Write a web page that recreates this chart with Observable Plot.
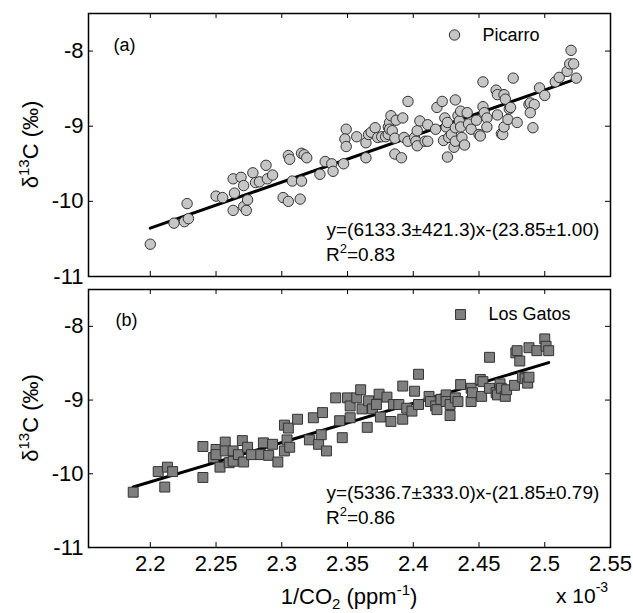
<!DOCTYPE html>
<html><head><meta charset="utf-8">
<script src="https://cdn.jsdelivr.net/npm/d3@7"></script>
<script src="https://cdn.jsdelivr.net/npm/@observablehq/plot@0.6"></script>
<style>
body{margin:0;background:#fff;font-family:"Liberation Sans",Arial,sans-serif;}
#chart{width:633px;height:613px;position:relative;background:#fff;}
#chart svg{display:block;}
</style></head><body><div id="chart"></div>
<script>
// ---- data (x in units of 1e-3 ppm^-1, y in per mil) ----
const picarroX = [2.200,2.218,2.226,2.229,2.228,2.250,2.255,2.263,2.269,2.264,2.271,2.263,2.271,2.273,2.274,2.278,2.280,2.283,2.288,2.289,
2.293,2.301,2.305,2.314,2.305,2.306,2.308,2.315,2.317,2.319,2.315,2.329,2.333,2.338,2.339,2.347,2.349,2.348,2.349,2.357,
2.364,2.364,2.366,2.368,2.371,2.373,2.376,2.379,2.381,2.381,2.382,2.383,2.382,2.384,2.386,2.386,2.391,2.387,2.392,2.393,
2.396,2.396,2.401,2.402,2.403,2.403,2.405,2.409,2.411,2.411,2.417,2.418,2.422,2.424,2.425,2.423,2.426,2.426,2.427,2.429,
2.431,2.432,2.432,2.432,2.434,2.435,2.436,2.436,2.437,2.439,2.441,2.442,2.444,2.448,2.450,2.451,2.453,2.453,2.454,2.456,
2.456,2.463,2.464,2.464,2.467,2.468,2.469,2.469,2.470,2.472,2.473,2.474,2.476,2.479,2.488,2.489,2.492,2.489,2.491,2.496,
2.500,2.508,2.511,2.517,2.520,2.519,2.522,2.524];
const picarroY = [-10.57,-10.29,-10.27,-10.23,-10.03,-9.93,-9.95,-9.70,-9.68,-9.89,-9.79,-10.12,-10.07,-10.12,-9.98,-9.62,-9.75,-9.74,-9.52,-9.70,
-9.65,-9.95,-10.00,-9.97,-9.39,-9.44,-9.73,-9.36,-9.38,-9.42,-9.73,-9.64,-9.47,-9.50,-9.60,-9.50,-9.04,-9.17,-9.27,-9.14,
-9.42,-9.22,-9.11,-9.08,-9.02,-9.15,-9.14,-9.14,-9.11,-9.01,-8.95,-8.86,-9.04,-9.06,-9.16,-9.37,-9.42,-8.92,-8.89,-9.15,
-8.67,-9.20,-9.15,-9.20,-9.26,-9.06,-8.93,-9.20,-9.20,-8.98,-9.04,-8.75,-8.67,-8.89,-9.01,-9.19,-8.95,-9.41,-9.15,-9.11,
-9.28,-8.65,-9.02,-9.20,-8.86,-8.93,-8.80,-9.01,-9.15,-9.25,-8.82,-8.97,-9.04,-8.92,-9.11,-9.13,-8.41,-8.74,-8.82,-8.89,
-9.01,-8.52,-8.58,-8.85,-9.10,-9.11,-9.01,-8.58,-8.64,-8.91,-8.77,-8.75,-8.36,-8.95,-8.71,-8.69,-8.71,-8.82,-9.02,-8.49,
-8.59,-8.41,-8.35,-8.27,-7.99,-8.17,-8.17,-8.36];
const losGatosX = [2.187,2.206,2.213,2.217,2.211,2.240,2.240,2.248,2.250,2.250,2.253,2.257,2.257,2.260,2.263,2.263,2.267,2.270,2.271,2.274,
2.277,2.284,2.286,2.290,2.293,2.297,2.302,2.302,2.304,2.305,2.306,2.312,2.321,2.324,2.328,2.331,2.330,2.334,2.341,2.344,
2.346,2.350,2.352,2.352,2.357,2.360,2.361,2.365,2.366,2.369,2.372,2.374,2.375,2.380,2.383,2.385,2.389,2.392,2.392,2.395,
2.401,2.399,2.404,2.404,2.412,2.413,2.417,2.418,2.421,2.425,2.425,2.428,2.428,2.432,2.434,2.436,2.444,2.444,2.445,2.451,
2.452,2.453,2.458,2.458,2.463,2.464,2.466,2.467,2.470,2.471,2.477,2.478,2.479,2.481,2.483,2.485,2.487,2.488,2.488,2.494,
2.500,2.501,2.503];
const losGatosY = [-10.25,-9.97,-9.91,-9.97,-10.18,-9.63,-10.05,-9.78,-9.67,-9.74,-9.91,-9.57,-9.69,-9.85,-9.69,-9.83,-9.74,-9.55,-9.84,-9.64,
-9.74,-9.74,-9.58,-9.75,-9.60,-9.84,-9.34,-9.69,-9.54,-9.38,-9.64,-9.26,-9.54,-9.24,-9.60,-9.17,-9.47,-9.69,-8.97,-9.28,
-9.51,-8.97,-9.08,-9.24,-8.97,-8.86,-9.12,-9.37,-9.01,-9.12,-9.06,-8.92,-9.23,-8.96,-9.29,-9.06,-9.06,-8.81,-9.26,-9.11,
-8.88,-9.15,-8.65,-9.06,-8.95,-9.02,-9.08,-9.13,-8.99,-8.93,-9.02,-9.21,-9.06,-8.97,-9.02,-8.79,-8.84,-9.02,-8.90,-8.72,
-8.95,-8.75,-8.84,-8.42,-8.90,-8.93,-8.78,-8.84,-8.95,-8.86,-8.80,-8.36,-8.33,-8.47,-8.69,-8.71,-8.77,-8.69,-8.29,-8.33,
-8.17,-8.27,-8.33];
const seriesNames = ["Picarro", "Los Gatos"];
const panelLabels = ["(a)", "(b)"];
const fitSlopes = [6133.3, 5336.7];
const fitIntercepts = [-23.85, -21.85];
const fitEquations = ["y=(6133.3\u00b1421.3)x-(23.85\u00b11.00)", "y=(5336.7\u00b1333.0)x-(21.85\u00b10.79)"];
const fitR2 = ["0.83", "0.86"];
const xTicks = [2.2, 2.25, 2.3, 2.35, 2.4, 2.45, 2.5, 2.55];
const yTicks = [-8, -9, -10, -11];
const xDomain = [2.153, 2.55];
const yDomain = [-11, -7.5];

// ---- layout ----
const W = 633, ML = 88, MR = 23, TICK = 5;
const FONT = "Liberation Sans, Arial, sans-serif";

function makePanel(c) {
  const innerW = W - ML - MR;
  const innerH = c.height - c.marginTop - c.marginBottom;
  const rows = c.xs.map((x, i) => ({x, y: c.ys[i]}));
  const ext = d3.extent(c.xs);
  const fit = ext.map(x => ({x, y: c.slope * x * 1e-3 + c.intercept}));
  const marks = [
    Plot.tickX(xTicks, {x: d => d, insetTop: innerH - TICK, stroke: "#000"}),
    Plot.tickX(xTicks, {x: d => d, insetBottom: innerH - TICK, stroke: "#000"}),
    Plot.tickY(yTicks, {y: d => d, insetRight: innerW - TICK, stroke: "#000"}),
    Plot.tickY(yTicks, {y: d => d, insetLeft: innerW - TICK, stroke: "#000"}),
    Plot.axisY({ticks: yTicks, tickSize: 0, tickPadding: 5, tickFormat: d => String(d), fontSize: 22, label: null}),
    Plot.line(fit, {x: "x", y: "y", stroke: "#000", strokeWidth: 3}),
    Plot.dot(rows, {x: "x", y: "y", symbol: c.symbol, r: c.r, fill: c.fill, stroke: "#333", strokeWidth: 1}),
    Plot.dot([c.name], {frameAnchor: "top-left", dx: c.legDx, dy: c.legDy, symbol: c.symbol, r: c.r, fill: c.fill, stroke: "#333", strokeWidth: 1}),
    Plot.text([c.name], {frameAnchor: "top-left", dx: c.legDx + 28, dy: c.legDy, text: d => d, textAnchor: "start", lineAnchor: "middle", fontSize: 18, fill: "#000"}),
    Plot.text([c.label], {frameAnchor: "top-left", dx: c.labDx, dy: c.labDy, text: d => d, textAnchor: "start", lineAnchor: "middle", fontSize: 18, fill: "#000"}),
    Plot.text([c.eq], {frameAnchor: "top-left", dx: 238, dy: c.eqDy, text: d => d, textAnchor: "start", lineAnchor: "middle", fontSize: 19, fill: "#000"}),
    Plot.frame({stroke: "#000", strokeWidth: 1.5})
  ];
  if (c.showX) marks.push(Plot.axisX({ticks: xTicks, tickSize: 0, tickPadding: 8, tickFormat: d => String(d), fontSize: 22, label: null}));
  const svg = Plot.plot({
    width: W, height: c.height,
    marginLeft: ML, marginRight: MR, marginTop: c.marginTop, marginBottom: c.marginBottom,
    x: c.showX ? {domain: xDomain} : {domain: xDomain, axis: null},
    y: {domain: yDomain},
    style: {fontFamily: FONT, fontSize: "21px", color: "#000", background: "#fff", overflow: "visible"},
    marks
  });
  const s = d3.select(svg);
  // R^2 line with a real superscript
  const r = s.append("text").attr("x", ML + 238).attr("y", c.marginTop + c.eqDy + 32)
    .attr("text-anchor", "start")
    .attr("font-family", FONT).attr("font-size", 19).attr("fill", "#000");
  r.append("tspan").text("R");
  r.append("tspan").attr("font-size", 13).attr("dy", -8).text("2");
  r.append("tspan").attr("dy", 8).text("=" + c.r2);
  // y-axis title: delta 13C (permil)
  const cy = c.marginTop + innerH / 2;
  const yl = s.append("text").attr("transform", `translate(38,${cy}) rotate(-90)`)
    .attr("text-anchor", "middle").attr("font-family", FONT).attr("font-size", 22).attr("fill", "#000");
  yl.append("tspan").text("\u03b4");
  yl.append("tspan").attr("font-size", 15).attr("dy", -9).text("13");
  yl.append("tspan").attr("dy", 9).text("C (\u2030)");
  return svg;
}

const chart = document.getElementById("chart");
const pa = makePanel({xs: picarroX, ys: picarroY, symbol: "circle", r: 5.2, fill: "#c6c6c6",
  name: seriesNames[0], label: panelLabels[0], slope: fitSlopes[0], intercept: fitIntercepts[0],
  eq: fitEquations[0], r2: fitR2[0], height: 287, marginTop: 13, marginBottom: 11,
  legDx: 366, legDy: 21.5, labDx: 25, labDy: 32, eqDy: 216, showX: false});
const pb = makePanel({xs: losGatosX, ys: losGatosY, symbol: "square", r: 5.6, fill: "#7f7f7f",
  name: seriesNames[1], label: panelLabels[1], slope: fitSlopes[1], intercept: fitIntercepts[1],
  eq: fitEquations[1], r2: fitR2[1], height: 326, marginTop: 2, marginBottom: 66,
  legDx: 372, legDy: 25, labDx: 27, labDy: 31, eqDy: 203, showX: true});
chart.appendChild(pa);
chart.appendChild(pb);

// x-axis title and exponent (sub/superscripts)
const sb = d3.select(pb);
const xl = sb.append("text").attr("x", 349).attr("y", 317).attr("text-anchor", "middle")
  .attr("font-family", FONT).attr("font-size", 22).attr("fill", "#000");
xl.append("tspan").text("1/CO");
xl.append("tspan").attr("font-size", 15).attr("dy", 5).text("2");
xl.append("tspan").attr("dy", -5).text(" (ppm");
xl.append("tspan").attr("font-size", 15).attr("dy", -9).text("-1");
xl.append("tspan").attr("dy", 9).text(")");
const xm = sb.append("text").attr("x", 556).attr("y", 316).attr("text-anchor", "start")
  .attr("font-family", FONT).attr("font-size", 21).attr("fill", "#000");
xm.append("tspan").text("x 10");
xm.append("tspan").attr("font-size", 14).attr("dy", -11).text("-3");
</script></body></html>
